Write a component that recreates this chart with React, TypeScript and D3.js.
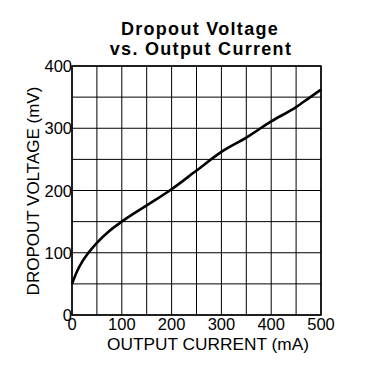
import React, { useEffect, useRef } from "react";
import * as d3 from "d3";

// Dropout voltage (mV) vs output current (mA)
const CURRENT = [0, 10, 20, 32, 50, 75, 100, 150, 200, 250, 300, 350, 400, 450, 475, 500];
const DROPOUT = [50, 70, 85, 99, 116, 135, 150, 176, 202, 232, 262, 285, 311, 334, 348, 362];
const X_TICKS = [0, 100, 200, 300, 400, 500];
const Y_TICKS = [0, 100, 200, 300, 400];
const GRID_X = d3.range(0, 501, 50);
const GRID_Y = d3.range(0, 401, 50);

export default function App() {
  const svgRef = useRef<SVGSVGElement>(null);

  useEffect(() => {
    const width = 380;
    const height = 385;
    const margin = { top: 66, right: 59, bottom: 70, left: 72 };
    const innerW = width - margin.left - margin.right;
    const innerH = height - margin.top - margin.bottom;
    const font = "'Liberation Sans', Arial, sans-serif";

    const svg = d3.select(svgRef.current);
    svg.selectAll("*").remove();
    svg.attr("width", width).attr("height", height);

    svg.append("rect").attr("width", width).attr("height", height).attr("fill", "#fff");

    const g = svg.append("g").attr("transform", `translate(${margin.left},${margin.top})`);

    const x = d3.scaleLinear().domain([0, 500]).range([0, innerW]);
    const y = d3.scaleLinear().domain([0, 400]).range([innerH, 0]);

    // grid
    g.selectAll(".gx")
      .data(GRID_X)
      .join("line")
      .attr("x1", d => x(d)).attr("x2", d => x(d))
      .attr("y1", 0).attr("y2", innerH)
      .attr("stroke", "#000").attr("stroke-width", 1);

    g.selectAll(".gy")
      .data(GRID_Y)
      .join("line")
      .attr("x1", 0).attr("x2", innerW)
      .attr("y1", d => y(d)).attr("y2", d => y(d))
      .attr("stroke", "#000").attr("stroke-width", 1);

    // frame
    g.append("rect")
      .attr("width", innerW).attr("height", innerH)
      .attr("fill", "none").attr("stroke", "#000").attr("stroke-width", 1.5);

    // curve
    const pts = CURRENT.map((c, i) => [c, DROPOUT[i]] as [number, number]);
    const line = d3.line<[number, number]>()
      .x(d => x(d[0]))
      .y(d => y(d[1]))
      .curve(d3.curveMonotoneX);
    g.append("path")
      .datum(pts)
      .attr("d", line)
      .attr("fill", "none")
      .attr("stroke", "#000")
      .attr("stroke-width", 2.6)
      .attr("stroke-linejoin", "round");

    // tick labels
    g.selectAll(".xt")
      .data(X_TICKS)
      .join("text")
      .attr("x", d => x(d))
      .attr("y", innerH + 14.5)
      .attr("text-anchor", "middle")
      .style("font-family", font).style("font-size", "16.5px")
      .attr("fill", "#000")
      .text(d => d);

    g.selectAll(".yt")
      .data(Y_TICKS)
      .join("text")
      .attr("x", 0)
      .attr("y", d => y(d) + 6)
      .attr("text-anchor", "end")
      .style("font-family", font).style("font-size", "16.5px")
      .attr("fill", "#000")
      .text(d => d);

    // axis titles
    svg.append("text")
      .attr("x", 208)
      .attr("y", 349.5)
      .attr("text-anchor", "middle")
      .style("font-family", font).style("font-size", "17.3px")
      .attr("fill", "#000")
      .text("OUTPUT CURRENT (mA)");

    svg.append("text")
      .attr("transform", `translate(39,191) rotate(-90)`)
      .attr("text-anchor", "middle")
      .style("font-family", font).style("font-size", "17px")
      .attr("fill", "#000")
      .text("DROPOUT VOLTAGE (mV)");

    // title
    const title = svg.append("text")
      .attr("text-anchor", "middle")
      .style("font-family", font).style("font-size", "18px").style("font-weight", 700)
      .style("letter-spacing", "1.3px")
      .attr("fill", "#000");
    title.append("tspan").attr("x", 200).attr("y", 35).text("Dropout Voltage");
    title.append("tspan").attr("x", 201).attr("y", 55).text("vs. Output Current");
  }, []);

  return <svg ref={svgRef} style={{ position: "absolute", left: 0, top: 0 }} />;
}
